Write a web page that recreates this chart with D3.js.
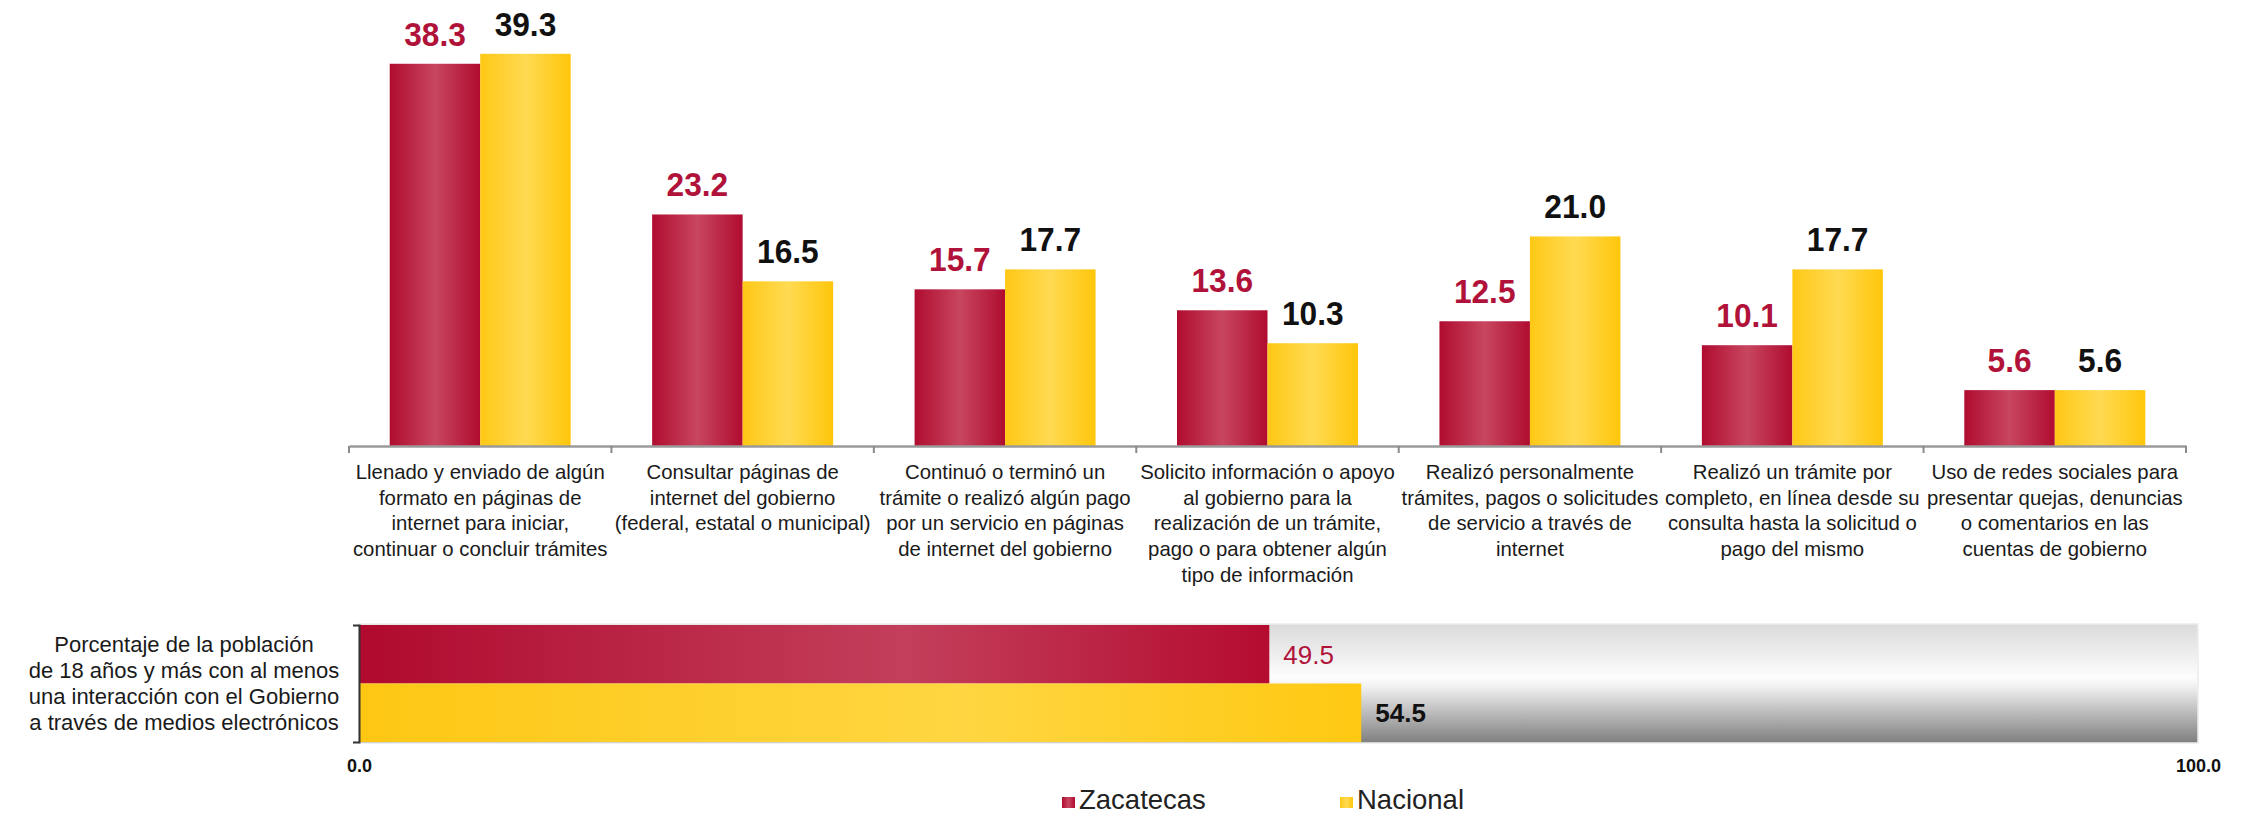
<!DOCTYPE html>
<html>
<head>
<meta charset="utf-8">
<script src="https://cdn.jsdelivr.net/npm/d3@7"></script>
<style>
  html, body { margin: 0; padding: 0; background: #fff; }
  svg { display: block; }
  text { font-family: "Liberation Sans", Arial, sans-serif; }
</style>
</head>
<body>
<svg id="chart" width="2242" height="814"></svg>
<script>
// data
const categories = [
  "Llenado y enviado de algún\nformato en páginas de\ninternet para iniciar,\ncontinuar o concluir trámites",
  "Consultar páginas de\ninternet del gobierno\n(federal, estatal o municipal)",
  "Continuó o terminó un\ntrámite o realizó algún pago\npor un servicio en páginas\nde internet del gobierno",
  "Solicito información o apoyo\nal gobierno para la\nrealización de un trámite,\npago o para obtener algún\ntipo de información",
  "Realizó personalmente\ntrámites, pagos o solicitudes\nde servicio a través de\ninternet",
  "Realizó un trámite por\ncompleto, en línea desde su\nconsulta hasta la solicitud o\npago del mismo",
  "Uso de redes sociales para\npresentar quejas, denuncias\no comentarios en las\ncuentas de gobierno"
];
const seriesNames = ["Zacatecas", "Nacional"];
const zacatecas = [38.3, 23.2, 15.7, 13.6, 12.5, 10.1, 5.6];
const nacional = [39.3, 16.5, 17.7, 10.3, 21.0, 17.7, 5.6];

const summaryLabel = "Porcentaje de la población\nde 18 años y más con al menos\nuna interacción con el Gobierno\na través de medios electrónicos";
const summaryValues = [49.5, 54.5];
const summaryTicks = [0, 100];

const labelColors = ["#b0123a", "#111"];

const svg = d3.select("#chart");
const defs = svg.append("defs");

function hGrad(id, stops) {
  const g = defs.append("linearGradient").attr("id", id)
    .attr("x1", 0).attr("x2", 1).attr("y1", 0).attr("y2", 0);
  stops.forEach(s => g.append("stop").attr("offset", s[0]).attr("stop-color", s[1]));
}
hGrad("gRed", [[0, "#b00c30"], [0.5, "#c8465f"], [1, "#b00c30"]]);
hGrad("gYel", [[0, "#ffc815"], [0.5, "#ffda52"], [1, "#ffc60a"]]);
hGrad("gRedH", [[0, "#b00a2e"], [0.6, "#c33f5b"], [1, "#b50c30"]]);
hGrad("gYelH", [[0, "#fdc713"], [0.6, "#ffd641"], [1, "#ffc912"]]);
const vg = defs.append("linearGradient").attr("id", "gGray")
  .attr("x1", 0).attr("x2", 0).attr("y1", 0).attr("y2", 1);
[[0, "#dadada"], [0.45, "#fdfdfd"], [0.52, "#f2f2f2"], [1, "#7e7e7e"]]
  .forEach(s => vg.append("stop").attr("offset", s[0]).attr("stop-color", s[1]));

const fills = ["url(#gRed)", "url(#gYel)"];
const fillsH = ["url(#gRedH)", "url(#gYelH)"];

// multi-line text centred on cx, squeezed horizontally by sx
function blockText(sel, cx, y0, lineH, lines, size, sx) {
  const t = sel.append("g")
    .attr("transform", `translate(${cx},0) scale(${sx},1)`)
    .append("text")
    .attr("font-size", size).attr("fill", "#1a1a1a").attr("text-anchor", "middle");
  t.selectAll("tspan").data(lines).join("tspan")
    .attr("x", 0).attr("y", (d, j) => y0 + j * lineH).text(d => d);
}

// ---- top grouped bars ----
const x0 = d3.scaleBand().domain(d3.range(categories.length)).range([349, 2186]);
const x1 = d3.scaleBand().domain(seriesNames).range([0, x0.bandwidth()]).paddingOuter(0.45);
const y = d3.scaleLinear().domain([0, 40]).range([446, 46.8]);

const rows = categories.map((c, i) => ({ i, vals: [zacatecas[i], nacional[i]] }));

const groups = svg.append("g").selectAll("g").data(rows).join("g")
  .attr("transform", d => `translate(${x0(d.i)},0)`);

groups.selectAll("rect").data(d => d.vals.map((v, k) => ({ v, k }))).join("rect")
  .attr("x", d => x1(seriesNames[d.k]))
  .attr("y", d => y(d.v))
  .attr("width", x1.bandwidth())
  .attr("height", d => y(0) - y(d.v))
  .attr("fill", d => fills[d.k]);

groups.selectAll("g.val").data(d => d.vals.map((v, k) => ({ v, k }))).join("g")
  .attr("class", "val")
  .attr("transform", d => `translate(${x1(seriesNames[d.k]) + x1.bandwidth() / 2},${y(d.v) - 18}) scale(0.96,1)`)
  .append("text")
  .attr("text-anchor", "middle")
  .attr("font-size", 33).attr("font-weight", "bold")
  .attr("fill", d => labelColors[d.k])
  .text(d => d.v.toFixed(1));

// axis line with ticks at category boundaries
const xAxis = svg.append("g").attr("transform", `translate(0,${y(0)})`)
  .call(d3.axisBottom(x0).tickSize(0).tickSizeOuter(0).tickFormat(""));
xAxis.select(".domain").attr("stroke", "#9a9a9a").attr("stroke-width", 2.5);
const bounds = x0.domain().map(d => x0(d)).concat([x0.range()[1]]);
xAxis.selectAll("line.bnd").data(bounds).join("line")
  .attr("x1", d => d).attr("x2", d => d).attr("y1", 0).attr("y2", 7)
  .attr("stroke", "#8a8a8a").attr("stroke-width", 2);

// category labels
groups.each(function (d) {
  blockText(d3.select(this), x0.bandwidth() / 2, 479, 25.7, categories[d.i].split("\n"), 21, 0.97);
});

// ---- bottom summary bar ----
const xh = d3.scaleLinear().domain([0, 100]).range([359, 2198]);
const yh = d3.scaleBand().domain(seriesNames).range([625, 742]);

svg.append("rect")
  .attr("x", xh(0)).attr("y", yh.range()[0] - 1)
  .attr("width", xh(100) - xh(0)).attr("height", yh.range()[1] - yh.range()[0] + 2)
  .attr("fill", "url(#gGray)")
  .attr("stroke", "#ececec").attr("stroke-width", 1.5);

svg.append("g").selectAll("rect").data(summaryValues).join("rect")
  .attr("x", xh(0))
  .attr("y", (d, k) => yh(seriesNames[k]))
  .attr("width", d => xh(d) - xh(0))
  .attr("height", yh.bandwidth())
  .attr("fill", (d, k) => fillsH[k]);

svg.append("g").selectAll("text").data(summaryValues).join("text")
  .attr("x", d => xh(d) + 14)
  .attr("y", (d, k) => yh(seriesNames[k]) + yh.bandwidth() / 2)
  .attr("dy", "0.36em")
  .attr("font-size", 26)
  .attr("font-weight", (d, k) => k ? "bold" : "normal")
  .attr("fill", (d, k) => labelColors[k])
  .text(d => d.toFixed(1));

const yAxisH = svg.append("g").attr("transform", `translate(${xh(0)},0)`)
  .call(d3.axisLeft(yh).tickValues([]).tickSizeOuter(6));
yAxisH.select(".domain").attr("stroke", "#333").attr("stroke-width", 2);

const xAxisH = svg.append("g").attr("transform", "translate(0,756)")
  .call(d3.axisBottom(xh).tickValues(summaryTicks).tickSize(0).tickFormat(d3.format(".1f")));
xAxisH.select(".domain").remove();
xAxisH.selectAll("text")
  .attr("font-family", "Liberation Serif, Times New Roman, serif")
  .attr("font-size", 18).attr("font-weight", "bold").attr("fill", "#111");

// left label
blockText(svg, 184, 652, 26, summaryLabel.split("\n"), 22, 1.0);

// legend
const legendX = [1062, 1340];
const legend = svg.append("g").selectAll("g").data(seriesNames).join("g")
  .attr("transform", (d, k) => `translate(${legendX[k]},0)`);
legend.append("rect").attr("x", 0).attr("y", 797).attr("width", 13).attr("height", 11)
  .attr("fill", (d, k) => fills[k]);
legend.append("text").attr("x", 17).attr("y", 809)
  .attr("font-size", 27.5).attr("fill", "#222")
  .text(d => d);
</script>
</body>
</html>
